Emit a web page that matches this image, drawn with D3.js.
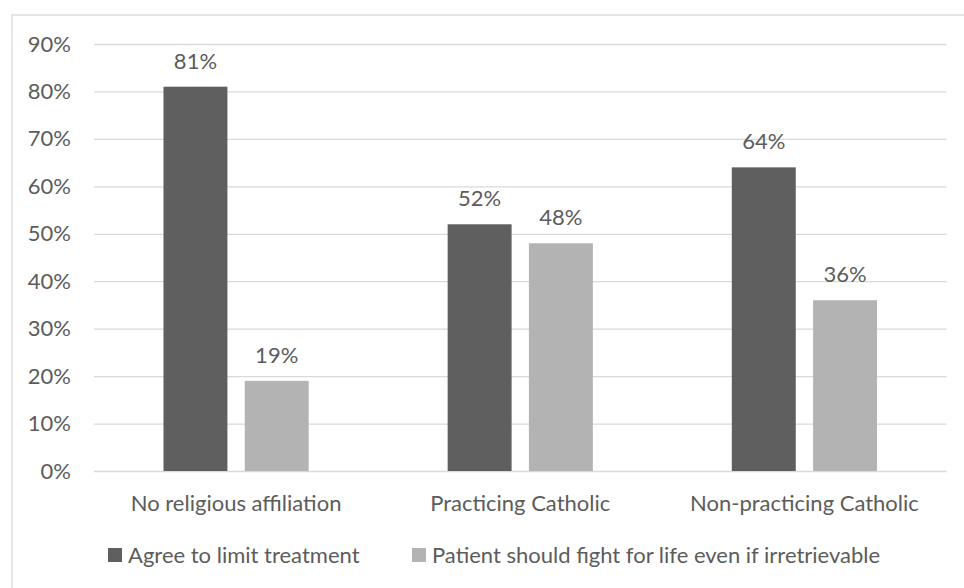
<!DOCTYPE html>
<html>
<head>
<meta charset="utf-8">
<script src="https://cdn.jsdelivr.net/npm/d3@7"></script>
<style>
  html, body { margin: 0; padding: 0; background: #fff; }
  svg { display: block; }
</style>
</head>
<body>
<script>
const categories = ["No religious affiliation", "Practicing Catholic", "Non-practicing Catholic"];
const seriesNames = ["Agree to limit treatment", "Patient should fight for life even if irretrievable"];
const agreeValues = [81, 52, 64];
const fightValues = [19, 48, 36];
const yTicks = [0, 10, 20, 30, 40, 50, 60, 70, 80, 90];
const seriesColors = ["#5f5f5f", "#b3b3b3"];

const W = 964, H = 588;
const FONT = "Lato, 'Open Sans', sans-serif";
const FS = 22;
const TEXT = "#5c5c5c";
const GRID = "#d9d9d9";

const margin = { left: 94, right: 17.5, top: 44, bottom: 117 };
const plotW = W - margin.left - margin.right;
const plotH = H - margin.top - margin.bottom;

const rows = categories.map((c, i) => ({ cat: c, values: [agreeValues[i], fightValues[i]] }));

const svg = d3.select("body").append("svg").attr("width", W).attr("height", H)
  .style("font-family", FONT);

// chart frame
svg.append("rect").attr("x", 12).attr("y", 15).attr("width", 1000).attr("height", 640)
  .attr("fill", "none").attr("stroke", GRID).attr("stroke-width", 1.3);

const g = svg.append("g").attr("transform", `translate(${margin.left},${margin.top})`);

const y = d3.scaleLinear().domain([0, 90]).range([plotH, 0]);
const x0 = d3.scaleBand().domain(categories).range([0, plotW]).paddingInner(0.489).paddingOuter(0.2445);
const x1 = d3.scaleBand().domain(seriesNames).range([0, x0.bandwidth()]).paddingInner(0.213);

// horizontal gridlines
const yAxis = d3.axisLeft(y).tickValues(yTicks).tickSize(-plotW).tickPadding(23)
  .tickFormat(d => d + "%");
const ya = g.append("g").call(yAxis);
ya.select(".domain").remove();
ya.selectAll(".tick line").attr("stroke", GRID).attr("stroke-width", 1.3);
ya.selectAll(".tick text").attr("fill", TEXT).style("font-size", FS + "px").style("font-family", FONT);

// bars
const groups = g.selectAll(".grp").data(rows).join("g").attr("class", "grp")
  .attr("transform", d => `translate(${x0(d.cat)},0)`);

groups.selectAll("rect").data(d => d.values.map((v, i) => ({ s: seriesNames[i], v, i })))
  .join("rect")
  .attr("x", d => x1(d.s))
  .attr("width", x1.bandwidth())
  .attr("y", d => y(d.v))
  .attr("height", d => y(0) - y(d.v))
  .attr("fill", d => seriesColors[d.i]);

// value labels
groups.selectAll("text.val").data(d => d.values.map((v, i) => ({ s: seriesNames[i], v, i })))
  .join("text").attr("class", "val")
  .attr("x", d => x1(d.s) + x1.bandwidth() / 2)
  .attr("y", d => y(d.v) - 18)
  .attr("text-anchor", "middle")
  .attr("fill", TEXT)
  .style("font-size", FS + "px")
  .text(d => d.v + "%");

// category axis
const xAxis = d3.axisBottom(x0).tickSize(0).tickPadding(24);
const xa = g.append("g").attr("transform", `translate(0,${plotH})`).call(xAxis);
xa.select(".domain").remove();
xa.selectAll(".tick text").attr("fill", TEXT).style("font-size", FS + "px").style("font-family", FONT);

// legend: swatch + label per series
const legendX = [108, 412];
const legend = svg.append("g").attr("transform", "translate(0,555)");
seriesNames.forEach((name, i) => {
  const it = legend.append("g").attr("transform", `translate(${legendX[i]},0)`);
  it.append("rect").attr("x", 0).attr("y", -7).attr("width", 14).attr("height", 14).attr("fill", seriesColors[i]);
  it.append("text").attr("x", 20).attr("y", 0).attr("dy", "0.35em")
    .attr("fill", TEXT).style("font-size", FS + "px").text(name);
});
</script>
</body>
</html>
